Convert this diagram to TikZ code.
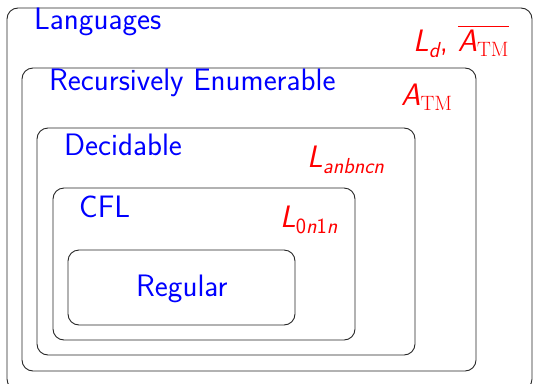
\documentclass[tikz,border=0pt]{standalone}
\usepackage{amsmath}
\newcommand{\sfit}[1]{\text{\sffamily\itshape #1}}
\newcommand{\sfup}[1]{\text{\sffamily\upshape #1}}
\begin{document}
\begin{tikzpicture}[x=1pt,y=-1pt,
  setbox/.style={draw=black!85,line width=0.9pt,rounded corners=11pt},
  setname/.style={anchor=base west,inner sep=0pt,text=blue,font=\sffamily\fontsize{31}{37}\selectfont},
  member/.style={anchor=base west,inner sep=0pt,text=red,font=\sffamily\fontsize{31}{37}\selectfont}]
  \useasboundingbox (0,0) rectangle (534,383);
  % nested classes of languages
  \draw[setbox] (7,8) rectangle (532,390);
  \draw[setbox] (22,68) rectangle (476,371);
  \draw[setbox] (37,128) rectangle (415,355);
  \draw[setbox] (53,188) rectangle (355,340);
  \draw[setbox] (68,250) rectangle (295,325);
  % class names
  \node[setname] (lang) at (34,29) {Languages};
  \node[setname] (re) at (49,90) {Recursively Enumerable};
  \node[setname] (dec) at (64,155) {Decidable};
  \node[setname] (cfl) at (79,217) {CFL};
  \node[setname] (reg) at (136,296) {Regular};
  % example languages
  \node[member] (ld) at (413,51) {$\sfit{L}_{\sfit{d}}$, $\overline{\sfit{A}_{\mathrm{TM}}}$};
  \node[member] (atm) at (401,105) {$\sfit{A}_{\mathrm{TM}}$};
  \node[member] (abc) at (307,167) {$\sfit{L}_{\sfit{anbncn}}$};
  \node[member] (zo) at (280,227) {$\sfit{L}_{\sfup{0}\sfit{n}\sfup{1}\sfit{n}}$};
\end{tikzpicture}
\end{document}
